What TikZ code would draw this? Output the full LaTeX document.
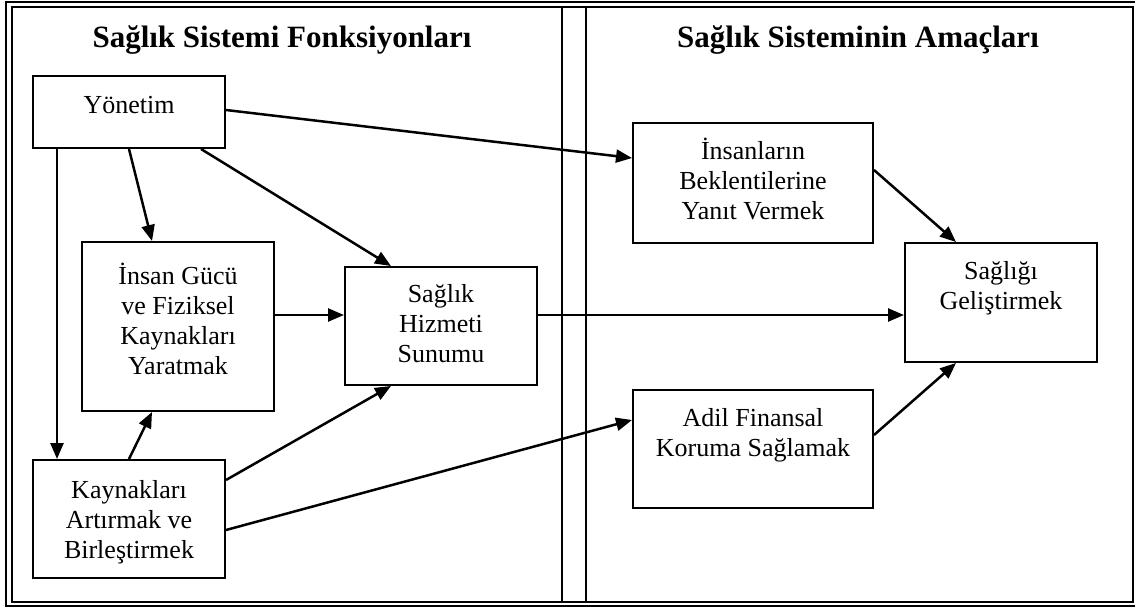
\documentclass[tikz,border=0pt]{standalone}
\usepackage{fontspec}
\setmainfont{Liberation Serif}
\usetikzlibrary{arrows.meta}
\begin{document}
\begin{tikzpicture}[x=1pt,y=-1pt,
  frame/.style={line width=2pt},
  box/.style={draw, line width=2pt, inner sep=0pt},
  txt/.style={align=center, inner sep=0pt, font=\fontsize{26}{30}\selectfont, anchor=base},
  ttl/.style={inner sep=0pt, font=\fontsize{31}{36}\selectfont\bfseries, anchor=base},
  arr/.style={line width=2.5pt, -{Triangle[length=16pt,width=13pt]}},
]
\useasboundingbox (0,0) rectangle (1135,608);
% frame
\draw[frame] (6,1.5) rectangle (1141,606);
\draw[frame] (12,6.5) rectangle (1133,602);
\coordinate (m1t) at (562,6.5); \coordinate (m1b) at (562,602);
\coordinate (m2t) at (586,6.5); \coordinate (m2b) at (586,602);
\draw[frame] (m1t) -- (m1b);
\draw[frame] (m2t) -- (m2b);
% titles
\node[ttl] (T1) at (282,47) {Sağlık Sistemi Fonksiyonları};
\node[ttl] (T2) at (858,47) {Sağlık Sisteminin Amaçları};
% boxes
\node[box, minimum width=192pt, minimum height=72pt]  (Y) at (129,112) {};
\node[box, minimum width=192pt, minimum height=169pt] (I) at (178,326.5) {};
\node[box, minimum width=192pt, minimum height=118pt] (S) at (441,326) {};
\node[box, minimum width=192pt, minimum height=118pt] (K) at (129,519) {};
\node[box, minimum width=240pt, minimum height=120pt] (B) at (753,183) {};
\node[box, minimum width=192pt, minimum height=119pt] (G) at (1001,302.5) {};
\node[box, minimum width=240pt, minimum height=118pt] (A) at (753,449) {};
% texts
\node[txt] (Yt) at (129,113) {Yönetim};
\node[txt] (It) at (178,374) {İnsan Gücü\\ve Fiziksel\\Kaynakları\\Yaratmak};
\node[txt] (St) at (441,362) {Sağlık\\Hizmeti\\Sunumu};
\node[txt] (Kt) at (129,558) {Kaynakları\\Artırmak ve\\Birleştirmek};
\node[txt] (Bt) at (753,219) {İnsanların\\Beklentilerine\\Yanıt Vermek};
\node[txt] (Gt) at (1001,309) {Sağlığı\\Geliştirmek};
\node[txt] (At) at (753,456) {Adil Finansal\\Koruma Sağlamak};
% arrows
\draw[arr] ([yshift=2pt]Y.east) -- ([yshift=25pt]B.west);
\draw[arr] ([xshift=25pt]Y.south west) -- ([xshift=25pt]K.north west);
\draw[arr] ([xshift=97pt]Y.south west) -- ([xshift=71pt]I.north west);
\draw[arr] ([xshift=169pt]Y.south west) -- ([xshift=47pt]S.north west);
\draw[arr] ([yshift=11.5pt]I.east) -- ([yshift=11pt]S.west);
\draw[arr] ([xshift=97pt]K.north west) -- ([xshift=71pt]I.south west);
\draw[arr] ([yshift=39pt]K.east) -- ([xshift=47pt]S.south west);
\draw[arr] ([yshift=-11pt]K.east) -- ([yshift=29pt]A.west);
\draw[arr] ([yshift=11pt]S.east) -- ([yshift=-12.5pt]G.west);
\draw[arr] ([yshift=13pt]B.east) -- ([xshift=52pt]G.north west);
\draw[arr] ([yshift=14pt]A.east) -- ([xshift=52pt]G.south west);
\end{tikzpicture}
\end{document}
